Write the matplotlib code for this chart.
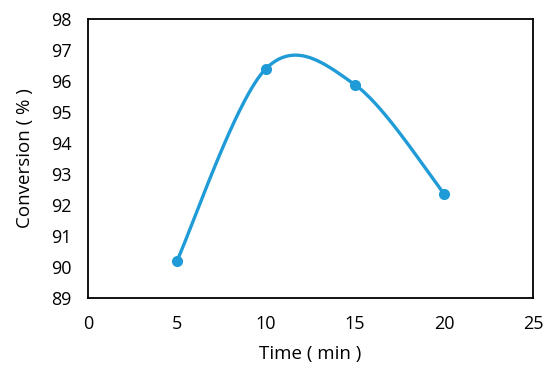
import numpy as np
import matplotlib
matplotlib.use("Agg")
import matplotlib.pyplot as plt

time_min = [5, 10, 15, 20]
conversion = [90.2, 96.4, 95.88, 92.37]
x_ticks = [0, 5, 10, 15, 20, 25]
y_ticks = [89, 90, 91, 92, 93, 94, 95, 96, 97, 98]

plt.rcParams['font.family'] = ['Open Sans', 'DejaVu Sans']

def excel_smooth(xs, ys, n=60):
    xs = np.asarray(xs, float); ys = np.asarray(ys, float)
    px = np.concatenate([[xs[0]], xs, [xs[-1]]])
    py = np.concatenate([[ys[0]], ys, [ys[-1]]])
    outx, outy = [], []
    t = np.linspace(0, 1, n)
    for i in range(1, len(px) - 2):
        p0 = np.array([px[i], py[i]]); p3 = np.array([px[i + 1], py[i + 1]])
        c1 = p0 + (np.array([px[i + 1], py[i + 1]]) - np.array([px[i - 1], py[i - 1]])) / 6
        c2 = p3 - (np.array([px[i + 2], py[i + 2]]) - np.array([px[i], py[i]])) / 6
        b = ((1 - t) ** 3)[:, None] * p0 + (3 * (1 - t) ** 2 * t)[:, None] * c1 + \
            (3 * (1 - t) * t ** 2)[:, None] * c2 + (t ** 3)[:, None] * p3
        outx.extend(b[:, 0]); outy.extend(b[:, 1])
    return outx, outy

fig = plt.figure(figsize=(5.5, 3.73), dpi=100)
ax = fig.add_axes([0.16, 0.201, 0.809, 0.748])
color = '#1F9BD7'
sx, sy = excel_smooth(time_min, conversion)
ax.plot(sx, sy, color=color, lw=2.4, solid_capstyle='round')
ax.plot(time_min, conversion, 'o', color=color, ms=7)

ax.set_xlim(0, 25)
ax.set_ylim(89, 98)
ax.set_xticks(x_ticks)
ax.set_yticks(y_ticks)
ax.tick_params(length=0, labelsize=13)
ax.tick_params(axis='x', pad=12)
ax.tick_params(axis='y', pad=12)
for s in ax.spines.values():
    s.set_linewidth(1.3)
    s.set_color('black')
ax.set_xlabel('Time ( min )', fontsize=13.5, labelpad=9)
ax.set_ylabel('Conversion ( % )', fontsize=13.5, labelpad=12)

fig.savefig('out.png', dpi=100)
